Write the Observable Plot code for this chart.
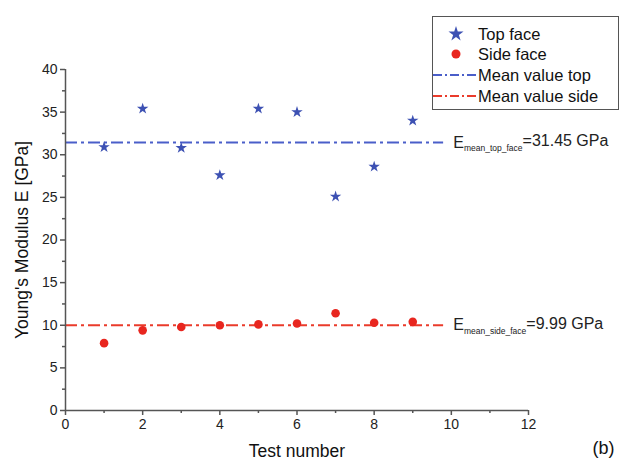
<!DOCTYPE html>
<html>
<head>
<meta charset="utf-8">
<script src="https://cdn.jsdelivr.net/npm/d3@7"></script>
<script src="https://cdn.jsdelivr.net/npm/@observablehq/plot@0.6"></script>
<style>
  body { margin: 0; background: #fff; }
  #wrap { position: relative; width: 624px; height: 461px; font-family: "Liberation Sans", Arial, sans-serif; }
  #legend { position: absolute; left: 432px; top: 16px; width: 185px; height: 92px; border: 1.5px solid #555; background: #fff; }
  #legend .row { position: absolute; left: 0; height: 20px; display: flex; align-items: center; }
  #legend .row span { font-size: 16.5px; color: #111; margin-left: 1px; }
</style>
</head>
<body>
<div id="wrap"></div>
<script>
const testNumbers = [1, 2, 3, 4, 5, 6, 7, 8, 9];
const topFace  = [30.9, 35.4, 30.8, 27.6, 35.4, 35.0, 25.1, 28.6, 34.0];
const sideFace = [7.9, 9.4, 9.8, 10.0, 10.1, 10.2, 11.4, 10.3, 10.4];
const meanTop = 31.45;
const meanSide = 9.99;
const meanLineEnd = 9.8;
const annotations = [
  {x: 10.05, y: meanTop, sub: "mean_top_face", value: "=31.45 GPa"},
  {x: 10.05, y: meanSide, sub: "mean_side_face", value: "=9.99 GPa"}
];
const xMajor = [0, 2, 4, 6, 8, 10, 12];
const xMinor = [1, 3, 5, 7, 9, 11];
const yMajor = [0, 5, 10, 15, 20, 25, 30, 35, 40];
const yMinor = [2.5, 7.5, 12.5, 17.5, 22.5, 27.5, 32.5, 37.5];

const blue = "#3d51b3";
const red = "#e8261f";
const blueLine = "#4a5ec9";
const redLine = "#ea3b2b";
const axisColor = "#555";

const topData = testNumbers.map((t, i) => ({t, v: topFace[i]}));
const sideData = testNumbers.map((t, i) => ({t, v: sideFace[i]}));
const dash = "12,4,3,4";
const noLabel = () => "";

const chart = Plot.plot({
  width: 624,
  height: 461,
  marginLeft: 65,
  marginRight: 96,
  marginTop: 69,
  marginBottom: 51,
  style: {fontFamily: "Liberation Sans, Arial, sans-serif", fontSize: "14px", color: "#222", background: "#fff"},
  x: {domain: [0, 12]},
  y: {domain: [0, 40]},
  marks: [
    Plot.ruleY([meanTop], {x1: 0, x2: meanLineEnd, stroke: blueLine, strokeWidth: 2, strokeDasharray: dash}),
    Plot.ruleY([meanSide], {x1: 0, x2: meanLineEnd, stroke: redLine, strokeWidth: 2, strokeDasharray: dash}),
    Plot.dot(topData, {x: "t", y: "v", symbol: "star", r: 3.6, fill: blue, stroke: "none"}),
    Plot.dot(sideData, {x: "t", y: "v", symbol: "circle", r: 4.3, fill: red, stroke: "none"}),
    Plot.text(annotations, {x: "x", y: "y", text: d => "E\u0001" + d.sub + "\u0001" + d.value, textAnchor: "start", fontSize: 16, fill: "#222"}),
    Plot.axisX(xMajor, {ticks: xMajor, tickSize: 5, tickPadding: 4, stroke: axisColor, strokeWidth: 1.5, fontSize: 14, label: "Test number", labelAnchor: "center", labelOffset: 46, labelArrow: "none"}),
    Plot.axisX(xMinor, {ticks: xMinor, tickSize: 3, tickFormat: noLabel, stroke: axisColor, strokeWidth: 1.5, label: null}),
    Plot.axisY(yMajor, {ticks: yMajor, tickSize: 5, tickPadding: 3, stroke: axisColor, strokeWidth: 1.5, fontSize: 14, label: "Young's Modulus E [GPa]", labelAnchor: "center", labelOffset: 50, labelArrow: "none"}),
    Plot.axisY(yMinor, {ticks: yMinor, tickSize: 3, tickFormat: noLabel, stroke: axisColor, strokeWidth: 1.5, label: null}),
    Plot.ruleX([0], {stroke: axisColor, strokeWidth: 1.5}),
    Plot.ruleY([0], {stroke: axisColor, strokeWidth: 1.5}),
    Plot.text(["(b)"], {frameAnchor: "bottom-right", dx: 86, dy: 43, fontSize: 18, fill: "#111"})
  ]
});

// Build subscript annotations
d3.select(chart).selectAll("text").each(function() {
  const t = this.textContent;
  if (t.indexOf("\u0001") >= 0) {
    const parts = t.split("\u0001");
    const sel = d3.select(this);
    sel.text(null);
    sel.append("tspan").text(parts[0]);
    sel.append("tspan").attr("dy", "0.4em").attr("font-size", "8.5px").text(parts[1]);
    sel.append("tspan").attr("dy", "-0.3em").text(parts[2]);
  }
});
// axis label font sizes
d3.select(chart).selectAll("text").each(function() {
  const t = this.textContent;
  if (t === "Young's Modulus E [GPa]" || t === "Test number") {
    d3.select(this).attr("font-size", "17.5px").attr("fill", "#111");
  }
});

const wrap = document.getElementById("wrap");
wrap.appendChild(chart);

// Legend (HTML overlay)
const legendItems = [
  {label: "Top face", kind: "star", color: blue},
  {label: "Side face", kind: "dot", color: red},
  {label: "Mean value top", kind: "line", color: blueLine},
  {label: "Mean value side", kind: "line", color: redLine}
];
const legend = document.createElement("div");
legend.id = "legend";
const rowTops = [7, 27, 48, 69];
legendItems.forEach((item, i) => {
  const row = document.createElement("div");
  row.className = "row";
  row.style.top = rowTops[i] + "px";
  const sw = d3.create("svg").attr("width", 44).attr("height", 20);
  if (item.kind === "star") {
    sw.append("path").attr("transform", "translate(23,10)").attr("d", d3.symbol(d3.symbolStar, 70)()).attr("fill", item.color);
  } else if (item.kind === "dot") {
    sw.append("circle").attr("cx", 23).attr("cy", 10).attr("r", 4.5).attr("fill", item.color);
  } else {
    sw.append("line").attr("x1", 0).attr("x2", 44).attr("y1", 10).attr("y2", 10)
      .attr("stroke", item.color).attr("stroke-width", 2).attr("stroke-dasharray", "9,3,2,3");
  }
  row.appendChild(sw.node());
  const s = document.createElement("span");
  s.textContent = item.label;
  row.appendChild(s);
  legend.appendChild(row);
});
wrap.appendChild(legend);
</script>
</body>
</html>
